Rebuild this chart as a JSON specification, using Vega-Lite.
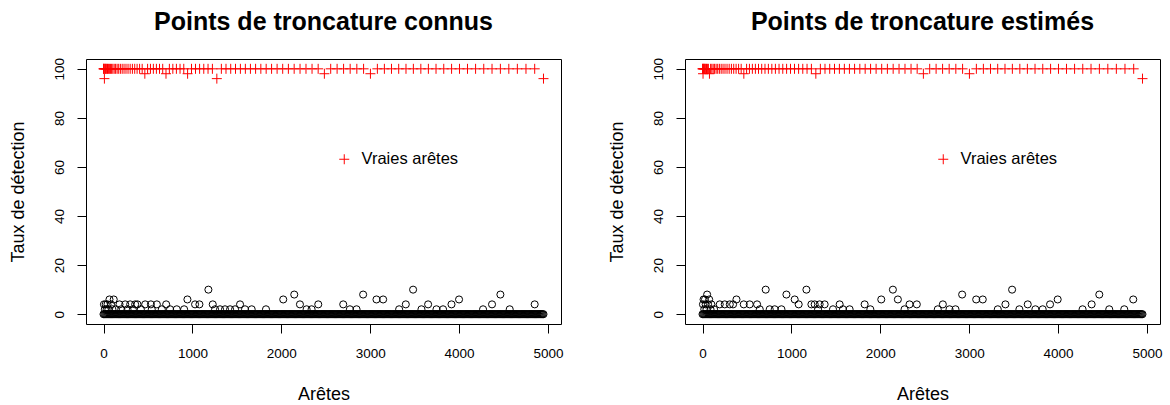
{
"$schema": "https://vega.github.io/schema/vega-lite/v6.json",
"padding": {"left": 8, "top": 9, "right": 5, "bottom": 0},
"background": "white",
"datasets": {
"zeros": [{"x":0,"y":0},{"x":10,"y":0},{"x":20,"y":0},{"x":30,"y":0},{"x":40,"y":0},{"x":50,"y":0},{"x":60,"y":0},{"x":70,"y":0},{"x":80,"y":0},{"x":90,"y":0},{"x":100,"y":0},{"x":110,"y":0},{"x":120,"y":0},{"x":130,"y":0},{"x":140,"y":0},{"x":150,"y":0},{"x":160,"y":0},{"x":170,"y":0},{"x":180,"y":0},{"x":190,"y":0},{"x":200,"y":0},{"x":210,"y":0},{"x":220,"y":0},{"x":230,"y":0},{"x":240,"y":0},{"x":250,"y":0},{"x":260,"y":0},{"x":270,"y":0},{"x":280,"y":0},{"x":290,"y":0},{"x":300,"y":0},{"x":310,"y":0},{"x":320,"y":0},{"x":330,"y":0},{"x":340,"y":0},{"x":350,"y":0},{"x":360,"y":0},{"x":370,"y":0},{"x":380,"y":0},{"x":390,"y":0},{"x":400,"y":0},{"x":410,"y":0},{"x":420,"y":0},{"x":430,"y":0},{"x":440,"y":0},{"x":450,"y":0},{"x":460,"y":0},{"x":470,"y":0},{"x":480,"y":0},{"x":490,"y":0},{"x":500,"y":0},{"x":510,"y":0},{"x":520,"y":0},{"x":530,"y":0},{"x":540,"y":0},{"x":550,"y":0},{"x":560,"y":0},{"x":570,"y":0},{"x":580,"y":0},{"x":590,"y":0},{"x":600,"y":0},{"x":610,"y":0},{"x":620,"y":0},{"x":630,"y":0},{"x":640,"y":0},{"x":650,"y":0},{"x":660,"y":0},{"x":670,"y":0},{"x":680,"y":0},{"x":690,"y":0},{"x":700,"y":0},{"x":710,"y":0},{"x":720,"y":0},{"x":730,"y":0},{"x":740,"y":0},{"x":750,"y":0},{"x":760,"y":0},{"x":770,"y":0},{"x":780,"y":0},{"x":790,"y":0},{"x":800,"y":0},{"x":810,"y":0},{"x":820,"y":0},{"x":830,"y":0},{"x":840,"y":0},{"x":850,"y":0},{"x":860,"y":0},{"x":870,"y":0},{"x":880,"y":0},{"x":890,"y":0},{"x":900,"y":0},{"x":910,"y":0},{"x":920,"y":0},{"x":930,"y":0},{"x":940,"y":0},{"x":950,"y":0},{"x":960,"y":0},{"x":970,"y":0},{"x":980,"y":0},{"x":990,"y":0},{"x":1000,"y":0},{"x":1010,"y":0},{"x":1020,"y":0},{"x":1030,"y":0},{"x":1040,"y":0},{"x":1050,"y":0},{"x":1060,"y":0},{"x":1070,"y":0},{"x":1080,"y":0},{"x":1090,"y":0},{"x":1100,"y":0},{"x":1110,"y":0},{"x":1120,"y":0},{"x":1130,"y":0},{"x":1140,"y":0},{"x":1150,"y":0},{"x":1160,"y":0},{"x":1170,"y":0},{"x":1180,"y":0},{"x":1190,"y":0},{"x":1200,"y":0},{"x":1210,"y":0},{"x":1220,"y":0},{"x":1230,"y":0},{"x":1240,"y":0},{"x":1250,"y":0},{"x":1260,"y":0},{"x":1270,"y":0},{"x":1280,"y":0},{"x":1290,"y":0},{"x":1300,"y":0},{"x":1310,"y":0},{"x":1320,"y":0},{"x":1330,"y":0},{"x":1340,"y":0},{"x":1350,"y":0},{"x":1360,"y":0},{"x":1370,"y":0},{"x":1380,"y":0},{"x":1390,"y":0},{"x":1400,"y":0},{"x":1410,"y":0},{"x":1420,"y":0},{"x":1430,"y":0},{"x":1440,"y":0},{"x":1450,"y":0},{"x":1460,"y":0},{"x":1470,"y":0},{"x":1480,"y":0},{"x":1490,"y":0},{"x":1500,"y":0},{"x":1510,"y":0},{"x":1520,"y":0},{"x":1530,"y":0},{"x":1540,"y":0},{"x":1550,"y":0},{"x":1560,"y":0},{"x":1570,"y":0},{"x":1580,"y":0},{"x":1590,"y":0},{"x":1600,"y":0},{"x":1610,"y":0},{"x":1620,"y":0},{"x":1630,"y":0},{"x":1640,"y":0},{"x":1650,"y":0},{"x":1660,"y":0},{"x":1670,"y":0},{"x":1680,"y":0},{"x":1690,"y":0},{"x":1700,"y":0},{"x":1710,"y":0},{"x":1720,"y":0},{"x":1730,"y":0},{"x":1740,"y":0},{"x":1750,"y":0},{"x":1760,"y":0},{"x":1770,"y":0},{"x":1780,"y":0},{"x":1790,"y":0},{"x":1800,"y":0},{"x":1810,"y":0},{"x":1820,"y":0},{"x":1830,"y":0},{"x":1840,"y":0},{"x":1850,"y":0},{"x":1860,"y":0},{"x":1870,"y":0},{"x":1880,"y":0},{"x":1890,"y":0},{"x":1900,"y":0},{"x":1910,"y":0},{"x":1920,"y":0},{"x":1930,"y":0},{"x":1940,"y":0},{"x":1950,"y":0},{"x":1960,"y":0},{"x":1970,"y":0},{"x":1980,"y":0},{"x":1990,"y":0},{"x":2000,"y":0},{"x":2010,"y":0},{"x":2020,"y":0},{"x":2030,"y":0},{"x":2040,"y":0},{"x":2050,"y":0},{"x":2060,"y":0},{"x":2070,"y":0},{"x":2080,"y":0},{"x":2090,"y":0},{"x":2100,"y":0},{"x":2110,"y":0},{"x":2120,"y":0},{"x":2130,"y":0},{"x":2140,"y":0},{"x":2150,"y":0},{"x":2160,"y":0},{"x":2170,"y":0},{"x":2180,"y":0},{"x":2190,"y":0},{"x":2200,"y":0},{"x":2210,"y":0},{"x":2220,"y":0},{"x":2230,"y":0},{"x":2240,"y":0},{"x":2250,"y":0},{"x":2260,"y":0},{"x":2270,"y":0},{"x":2280,"y":0},{"x":2290,"y":0},{"x":2300,"y":0},{"x":2310,"y":0},{"x":2320,"y":0},{"x":2330,"y":0},{"x":2340,"y":0},{"x":2350,"y":0},{"x":2360,"y":0},{"x":2370,"y":0},{"x":2380,"y":0},{"x":2390,"y":0},{"x":2400,"y":0},{"x":2410,"y":0},{"x":2420,"y":0},{"x":2430,"y":0},{"x":2440,"y":0},{"x":2450,"y":0},{"x":2460,"y":0},{"x":2470,"y":0},{"x":2480,"y":0},{"x":2490,"y":0},{"x":2500,"y":0},{"x":2510,"y":0},{"x":2520,"y":0},{"x":2530,"y":0},{"x":2540,"y":0},{"x":2550,"y":0},{"x":2560,"y":0},{"x":2570,"y":0},{"x":2580,"y":0},{"x":2590,"y":0},{"x":2600,"y":0},{"x":2610,"y":0},{"x":2620,"y":0},{"x":2630,"y":0},{"x":2640,"y":0},{"x":2650,"y":0},{"x":2660,"y":0},{"x":2670,"y":0},{"x":2680,"y":0},{"x":2690,"y":0},{"x":2700,"y":0},{"x":2710,"y":0},{"x":2720,"y":0},{"x":2730,"y":0},{"x":2740,"y":0},{"x":2750,"y":0},{"x":2760,"y":0},{"x":2770,"y":0},{"x":2780,"y":0},{"x":2790,"y":0},{"x":2800,"y":0},{"x":2810,"y":0},{"x":2820,"y":0},{"x":2830,"y":0},{"x":2840,"y":0},{"x":2850,"y":0},{"x":2860,"y":0},{"x":2870,"y":0},{"x":2880,"y":0},{"x":2890,"y":0},{"x":2900,"y":0},{"x":2910,"y":0},{"x":2920,"y":0},{"x":2930,"y":0},{"x":2940,"y":0},{"x":2950,"y":0},{"x":2960,"y":0},{"x":2970,"y":0},{"x":2980,"y":0},{"x":2990,"y":0},{"x":3000,"y":0},{"x":3010,"y":0},{"x":3020,"y":0},{"x":3030,"y":0},{"x":3040,"y":0},{"x":3050,"y":0},{"x":3060,"y":0},{"x":3070,"y":0},{"x":3080,"y":0},{"x":3090,"y":0},{"x":3100,"y":0},{"x":3110,"y":0},{"x":3120,"y":0},{"x":3130,"y":0},{"x":3140,"y":0},{"x":3150,"y":0},{"x":3160,"y":0},{"x":3170,"y":0},{"x":3180,"y":0},{"x":3190,"y":0},{"x":3200,"y":0},{"x":3210,"y":0},{"x":3220,"y":0},{"x":3230,"y":0},{"x":3240,"y":0},{"x":3250,"y":0},{"x":3260,"y":0},{"x":3270,"y":0},{"x":3280,"y":0},{"x":3290,"y":0},{"x":3300,"y":0},{"x":3310,"y":0},{"x":3320,"y":0},{"x":3330,"y":0},{"x":3340,"y":0},{"x":3350,"y":0},{"x":3360,"y":0},{"x":3370,"y":0},{"x":3380,"y":0},{"x":3390,"y":0},{"x":3400,"y":0},{"x":3410,"y":0},{"x":3420,"y":0},{"x":3430,"y":0},{"x":3440,"y":0},{"x":3450,"y":0},{"x":3460,"y":0},{"x":3470,"y":0},{"x":3480,"y":0},{"x":3490,"y":0},{"x":3500,"y":0},{"x":3510,"y":0},{"x":3520,"y":0},{"x":3530,"y":0},{"x":3540,"y":0},{"x":3550,"y":0},{"x":3560,"y":0},{"x":3570,"y":0},{"x":3580,"y":0},{"x":3590,"y":0},{"x":3600,"y":0},{"x":3610,"y":0},{"x":3620,"y":0},{"x":3630,"y":0},{"x":3640,"y":0},{"x":3650,"y":0},{"x":3660,"y":0},{"x":3670,"y":0},{"x":3680,"y":0},{"x":3690,"y":0},{"x":3700,"y":0},{"x":3710,"y":0},{"x":3720,"y":0},{"x":3730,"y":0},{"x":3740,"y":0},{"x":3750,"y":0},{"x":3760,"y":0},{"x":3770,"y":0},{"x":3780,"y":0},{"x":3790,"y":0},{"x":3800,"y":0},{"x":3810,"y":0},{"x":3820,"y":0},{"x":3830,"y":0},{"x":3840,"y":0},{"x":3850,"y":0},{"x":3860,"y":0},{"x":3870,"y":0},{"x":3880,"y":0},{"x":3890,"y":0},{"x":3900,"y":0},{"x":3910,"y":0},{"x":3920,"y":0},{"x":3930,"y":0},{"x":3940,"y":0},{"x":3950,"y":0},{"x":3960,"y":0},{"x":3970,"y":0},{"x":3980,"y":0},{"x":3990,"y":0},{"x":4000,"y":0},{"x":4010,"y":0},{"x":4020,"y":0},{"x":4030,"y":0},{"x":4040,"y":0},{"x":4050,"y":0},{"x":4060,"y":0},{"x":4070,"y":0},{"x":4080,"y":0},{"x":4090,"y":0},{"x":4100,"y":0},{"x":4110,"y":0},{"x":4120,"y":0},{"x":4130,"y":0},{"x":4140,"y":0},{"x":4150,"y":0},{"x":4160,"y":0},{"x":4170,"y":0},{"x":4180,"y":0},{"x":4190,"y":0},{"x":4200,"y":0},{"x":4210,"y":0},{"x":4220,"y":0},{"x":4230,"y":0},{"x":4240,"y":0},{"x":4250,"y":0},{"x":4260,"y":0},{"x":4270,"y":0},{"x":4280,"y":0},{"x":4290,"y":0},{"x":4300,"y":0},{"x":4310,"y":0},{"x":4320,"y":0},{"x":4330,"y":0},{"x":4340,"y":0},{"x":4350,"y":0},{"x":4360,"y":0},{"x":4370,"y":0},{"x":4380,"y":0},{"x":4390,"y":0},{"x":4400,"y":0},{"x":4410,"y":0},{"x":4420,"y":0},{"x":4430,"y":0},{"x":4440,"y":0},{"x":4450,"y":0},{"x":4460,"y":0},{"x":4470,"y":0},{"x":4480,"y":0},{"x":4490,"y":0},{"x":4500,"y":0},{"x":4510,"y":0},{"x":4520,"y":0},{"x":4530,"y":0},{"x":4540,"y":0},{"x":4550,"y":0},{"x":4560,"y":0},{"x":4570,"y":0},{"x":4580,"y":0},{"x":4590,"y":0},{"x":4600,"y":0},{"x":4610,"y":0},{"x":4620,"y":0},{"x":4630,"y":0},{"x":4640,"y":0},{"x":4650,"y":0},{"x":4660,"y":0},{"x":4670,"y":0},{"x":4680,"y":0},{"x":4690,"y":0},{"x":4700,"y":0},{"x":4710,"y":0},{"x":4720,"y":0},{"x":4730,"y":0},{"x":4740,"y":0},{"x":4750,"y":0},{"x":4760,"y":0},{"x":4770,"y":0},{"x":4780,"y":0},{"x":4790,"y":0},{"x":4800,"y":0},{"x":4810,"y":0},{"x":4820,"y":0},{"x":4830,"y":0},{"x":4840,"y":0},{"x":4850,"y":0},{"x":4860,"y":0},{"x":4870,"y":0},{"x":4880,"y":0},{"x":4890,"y":0},{"x":4900,"y":0},{"x":4910,"y":0},{"x":4920,"y":0},{"x":4930,"y":0},{"x":4940,"y":0},{"x":4950,"y":0}],
"left_other": [{"x":5,"y":4},{"x":15,"y":2},{"x":25,"y":4},{"x":35,"y":2},{"x":45,"y":4},{"x":55,"y":2},{"x":67,"y":6},{"x":85,"y":4},{"x":100,"y":2},{"x":115,"y":6},{"x":140,"y":2},{"x":180,"y":4},{"x":200,"y":2},{"x":244,"y":4},{"x":270,"y":2},{"x":300,"y":4},{"x":330,"y":2},{"x":356,"y":4},{"x":382,"y":4},{"x":420,"y":2},{"x":469,"y":4},{"x":533,"y":4},{"x":543,"y":2},{"x":600,"y":4},{"x":656,"y":2},{"x":705,"y":4},{"x":749,"y":2},{"x":824,"y":2},{"x":907,"y":2},{"x":944,"y":6},{"x":1030,"y":4},{"x":1079,"y":4},{"x":1180,"y":10},{"x":1229,"y":4},{"x":1255,"y":2},{"x":1311,"y":2},{"x":1367,"y":2},{"x":1424,"y":2},{"x":1480,"y":2},{"x":1536,"y":4},{"x":1592,"y":2},{"x":1667,"y":2},{"x":1828,"y":2},{"x":2022,"y":6},{"x":2146,"y":8},{"x":2210,"y":4},{"x":2285,"y":2},{"x":2341,"y":2},{"x":2416,"y":4},{"x":2697,"y":4},{"x":2772,"y":2},{"x":2847,"y":2},{"x":2921,"y":8},{"x":3071,"y":6},{"x":3146,"y":6},{"x":3326,"y":2},{"x":3401,"y":4},{"x":3483,"y":10},{"x":3577,"y":2},{"x":3652,"y":4},{"x":3746,"y":2},{"x":3820,"y":2},{"x":3915,"y":4},{"x":4000,"y":6},{"x":4270,"y":2},{"x":4371,"y":4},{"x":4465,"y":8},{"x":4570,"y":2},{"x":4851,"y":4}],
"right_other": [{"x":5,"y":4},{"x":12,"y":6},{"x":20,"y":2},{"x":28,"y":6},{"x":35,"y":4},{"x":45,"y":2},{"x":52,"y":8},{"x":62,"y":4},{"x":75,"y":6},{"x":90,"y":2},{"x":100,"y":4},{"x":130,"y":2},{"x":194,"y":4},{"x":250,"y":4},{"x":307,"y":4},{"x":344,"y":4},{"x":382,"y":6},{"x":464,"y":4},{"x":531,"y":4},{"x":614,"y":4},{"x":644,"y":2},{"x":711,"y":10},{"x":756,"y":2},{"x":812,"y":2},{"x":888,"y":2},{"x":944,"y":8},{"x":1037,"y":6},{"x":1082,"y":4},{"x":1169,"y":10},{"x":1225,"y":4},{"x":1262,"y":4},{"x":1300,"y":2},{"x":1318,"y":4},{"x":1374,"y":4},{"x":1468,"y":2},{"x":1543,"y":4},{"x":1580,"y":2},{"x":1655,"y":2},{"x":1824,"y":4},{"x":1888,"y":2},{"x":2011,"y":6},{"x":2142,"y":10},{"x":2198,"y":6},{"x":2273,"y":2},{"x":2329,"y":4},{"x":2411,"y":4},{"x":2647,"y":2},{"x":2704,"y":4},{"x":2779,"y":2},{"x":2846,"y":2},{"x":2921,"y":8},{"x":3079,"y":6},{"x":3153,"y":6},{"x":3322,"y":2},{"x":3408,"y":4},{"x":3483,"y":10},{"x":3565,"y":2},{"x":3659,"y":4},{"x":3745,"y":2},{"x":3827,"y":2},{"x":3910,"y":4},{"x":3996,"y":6},{"x":4276,"y":2},{"x":4378,"y":4},{"x":4464,"y":8},{"x":4576,"y":2},{"x":4745,"y":2},{"x":4846,"y":6}],
"left_true": [{"x":1,"y":100},{"x":3,"y":100},{"x":6,"y":100},{"x":10,"y":96},{"x":15,"y":100},{"x":21,"y":100},{"x":28,"y":100},{"x":36,"y":100},{"x":45,"y":100},{"x":55,"y":100},{"x":66,"y":100},{"x":78,"y":100},{"x":91,"y":100},{"x":105,"y":100},{"x":120,"y":100},{"x":136,"y":100},{"x":153,"y":100},{"x":171,"y":100},{"x":190,"y":100},{"x":210,"y":100},{"x":231,"y":100},{"x":253,"y":100},{"x":276,"y":100},{"x":300,"y":100},{"x":325,"y":100},{"x":351,"y":100},{"x":378,"y":100},{"x":406,"y":100},{"x":435,"y":100},{"x":465,"y":98},{"x":496,"y":100},{"x":528,"y":100},{"x":561,"y":100},{"x":595,"y":100},{"x":630,"y":100},{"x":666,"y":100},{"x":703,"y":98},{"x":741,"y":100},{"x":780,"y":100},{"x":820,"y":100},{"x":861,"y":100},{"x":903,"y":100},{"x":946,"y":98},{"x":990,"y":100},{"x":1035,"y":100},{"x":1081,"y":100},{"x":1128,"y":100},{"x":1176,"y":100},{"x":1225,"y":100},{"x":1275,"y":96},{"x":1326,"y":100},{"x":1378,"y":100},{"x":1431,"y":100},{"x":1485,"y":100},{"x":1540,"y":100},{"x":1596,"y":100},{"x":1653,"y":100},{"x":1711,"y":100},{"x":1770,"y":100},{"x":1830,"y":100},{"x":1891,"y":100},{"x":1953,"y":100},{"x":2016,"y":100},{"x":2080,"y":100},{"x":2145,"y":100},{"x":2211,"y":100},{"x":2278,"y":100},{"x":2346,"y":100},{"x":2415,"y":100},{"x":2485,"y":98},{"x":2556,"y":100},{"x":2628,"y":100},{"x":2701,"y":100},{"x":2775,"y":100},{"x":2850,"y":100},{"x":2926,"y":100},{"x":3003,"y":98},{"x":3081,"y":100},{"x":3160,"y":100},{"x":3240,"y":100},{"x":3321,"y":100},{"x":3403,"y":100},{"x":3486,"y":100},{"x":3570,"y":100},{"x":3655,"y":100},{"x":3741,"y":100},{"x":3828,"y":100},{"x":3916,"y":100},{"x":4005,"y":100},{"x":4095,"y":100},{"x":4186,"y":100},{"x":4278,"y":100},{"x":4371,"y":100},{"x":4465,"y":100},{"x":4560,"y":100},{"x":4656,"y":100},{"x":4753,"y":100},{"x":4851,"y":100},{"x":4950,"y":96}],
"right_true": [{"x":1,"y":100},{"x":3,"y":100},{"x":6,"y":98},{"x":10,"y":100},{"x":15,"y":100},{"x":21,"y":100},{"x":28,"y":100},{"x":36,"y":100},{"x":45,"y":100},{"x":55,"y":100},{"x":66,"y":100},{"x":78,"y":98},{"x":91,"y":100},{"x":105,"y":100},{"x":120,"y":100},{"x":136,"y":100},{"x":153,"y":100},{"x":171,"y":100},{"x":190,"y":100},{"x":210,"y":100},{"x":231,"y":100},{"x":253,"y":100},{"x":276,"y":100},{"x":300,"y":100},{"x":325,"y":100},{"x":351,"y":100},{"x":378,"y":100},{"x":406,"y":100},{"x":435,"y":100},{"x":465,"y":98},{"x":496,"y":100},{"x":528,"y":100},{"x":561,"y":100},{"x":595,"y":100},{"x":630,"y":100},{"x":666,"y":100},{"x":703,"y":100},{"x":741,"y":100},{"x":780,"y":100},{"x":820,"y":100},{"x":861,"y":100},{"x":903,"y":100},{"x":946,"y":100},{"x":990,"y":100},{"x":1035,"y":100},{"x":1081,"y":100},{"x":1128,"y":100},{"x":1176,"y":100},{"x":1225,"y":100},{"x":1275,"y":98},{"x":1326,"y":100},{"x":1378,"y":100},{"x":1431,"y":100},{"x":1485,"y":100},{"x":1540,"y":100},{"x":1596,"y":100},{"x":1653,"y":100},{"x":1711,"y":100},{"x":1770,"y":100},{"x":1830,"y":100},{"x":1891,"y":100},{"x":1953,"y":100},{"x":2016,"y":100},{"x":2080,"y":100},{"x":2145,"y":100},{"x":2211,"y":100},{"x":2278,"y":100},{"x":2346,"y":100},{"x":2415,"y":100},{"x":2485,"y":98},{"x":2556,"y":100},{"x":2628,"y":100},{"x":2701,"y":100},{"x":2775,"y":100},{"x":2850,"y":100},{"x":2926,"y":100},{"x":3003,"y":98},{"x":3081,"y":100},{"x":3160,"y":100},{"x":3240,"y":100},{"x":3321,"y":100},{"x":3403,"y":100},{"x":3486,"y":100},{"x":3570,"y":100},{"x":3655,"y":100},{"x":3741,"y":100},{"x":3828,"y":100},{"x":3916,"y":100},{"x":4005,"y":100},{"x":4095,"y":100},{"x":4186,"y":100},{"x":4278,"y":100},{"x":4371,"y":100},{"x":4465,"y":100},{"x":4560,"y":100},{"x":4656,"y":100},{"x":4753,"y":100},{"x":4851,"y":100},{"x":4950,"y":96}]
},
"spacing": 43,
"resolve": {"scale": {"color": "independent"}, "legend": {"color": "independent"}},
"hconcat": [
{
"title": "Points de troncature connus",
"width": 475, "height": 265,
"encoding": {
"x": {"field": "x", "type": "quantitative", "title": "Arêtes", "scale": {"domain": [-197, 5147], "nice": false, "zero": false}, "axis": {"values": [0,1000,2000,3000,4000,5000], "format": "d"}},
"y": {"field": "y", "type": "quantitative", "title": "Taux de détection", "scale": {"domain": [-4, 104], "nice": false, "zero": false}, "axis": {"values": [0,20,40,60,80,100], "format": "d"}}
},
"layer": [
{"data": {"name": "zeros"}, "mark": {"type": "point", "shape": "circle", "filled": false, "color": "black", "size": 50, "strokeWidth": 1, "opacity": 1}},
{"data": {"name": "left_other"}, "mark": {"type": "point", "shape": "circle", "filled": false, "color": "black", "size": 50, "strokeWidth": 1, "opacity": 1}},
{"data": {"name": "left_true"}, "mark": {"type": "point", "shape": "M-1,0H1M0,-1V1", "filled": false, "size": 100, "strokeWidth": 1, "opacity": 1},
 "encoding": {"color": {"datum": "Vraies arêtes", "type": "nominal", "scale": {"range": ["#FF0000"]}, "legend": {"orient": "none", "legendX": 250, "legendY": 92, "title": null}}}}
]
},
{
"title": "Points de troncature estimés",
"width": 475, "height": 265,
"encoding": {
"x": {"field": "x", "type": "quantitative", "title": "Arêtes", "scale": {"domain": [-197, 5147], "nice": false, "zero": false}, "axis": {"values": [0,1000,2000,3000,4000,5000], "format": "d"}},
"y": {"field": "y", "type": "quantitative", "title": "Taux de détection", "scale": {"domain": [-4, 104], "nice": false, "zero": false}, "axis": {"values": [0,20,40,60,80,100], "format": "d"}}
},
"layer": [
{"data": {"name": "zeros"}, "mark": {"type": "point", "shape": "circle", "filled": false, "color": "black", "size": 50, "strokeWidth": 1, "opacity": 1}},
{"data": {"name": "right_other"}, "mark": {"type": "point", "shape": "circle", "filled": false, "color": "black", "size": 50, "strokeWidth": 1, "opacity": 1}},
{"data": {"name": "right_true"}, "mark": {"type": "point", "shape": "M-1,0H1M0,-1V1", "filled": false, "size": 100, "strokeWidth": 1, "opacity": 1},
 "encoding": {"color": {"datum": "Vraies arêtes", "type": "nominal", "scale": {"range": ["#FF0000"]}, "legend": {"orient": "none", "legendX": 250, "legendY": 92, "title": null}}}}
]
}
],
"config": {
"font": "Liberation Sans",
"view": {"stroke": "black", "strokeWidth": 1},
"axis": {"domain": false, "grid": false, "tickColor": "black", "tickSize": 9, "tickWidth": 1, "labelColor": "black", "labelFont": "Liberation Sans", "labelFontSize": 13.5, "labelFlush": false, "labelOverlap": false, "titleFont": "Liberation Sans", "titleFontSize": 18, "titleFontWeight": "normal", "titleColor": "black"},
"axisX": {"labelPadding": 13, "titlePadding": 26},
"axisY": {"labelAngle": 270, "labelAlign": "center", "labelBaseline": "bottom", "labelPadding": 11, "titlePadding": 25},
"title": {"font": "Liberation Sans", "fontSize": 25, "fontWeight": "bold", "color": "black", "offset": 23, "anchor": "middle"},
"legend": {"symbolType": "M-1,0H1M0,-1V1", "symbolSize": 100, "symbolStrokeWidth": 1, "symbolStrokeColor": "#FF0000", "symbolFillColor": "transparent", "labelFont": "Liberation Sans", "labelFontSize": 16.5, "labelColor": "black", "labelOffset": 9, "padding": 0}
}
}
